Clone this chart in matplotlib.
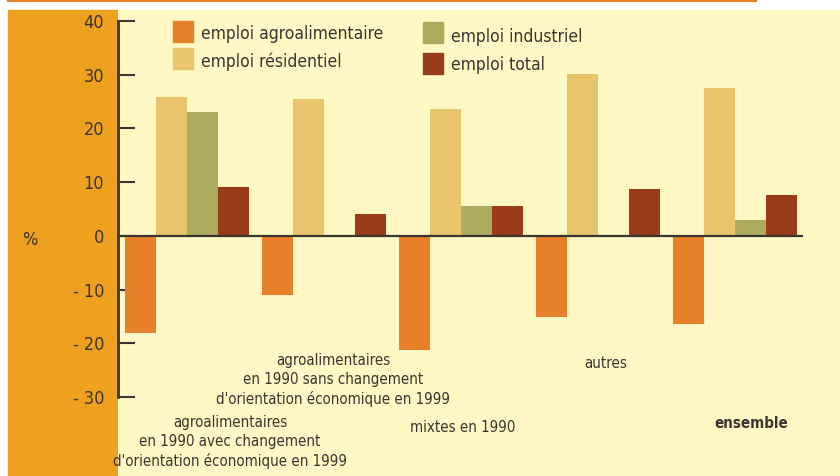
import numpy as np
import matplotlib.pyplot as plt
from matplotlib.patches import Rectangle
from matplotlib.lines import Line2D

plt.rcParams['font.family'] = ['DejaVu Sans']
plt.rcParams['font.stretch'] = 'condensed'

# ── données ──────────────────────────────────────────────
categories = [
    "agroalimentaires\nen 1990 avec changement\nd'orientation économique en 1999",
    "agroalimentaires\nen 1990 sans changement\nd'orientation économique en 1999",
    "mixtes en 1990",
    "autres",
    "ensemble",
]
series_names = ["emploi agroalimentaire", "emploi résidentiel",
                "emploi industriel", "emploi total"]
agro = [-18.0, -11.0, -21.2, -15.1, -16.4]
resid = [25.8, 25.5, 23.6, 30.1, 27.5]
indus = [23.0, -0.3, 5.6, 0.1, 3.0]
total = [9.1, 4.1, 5.6, 8.7, 7.6]
yticks = [40, 30, 20, 10, 0, -10, -20, -30]
ytick_labels = ["40", "30", "20", "10", "0", "- 10", "- 20", "- 30"]

colors = ["#E8802A", "#E8C46A", "#ADAB5E", "#983C1A"]
BG = "#FFF8C4"
PANEL = "#EEA11F"
DARK = "#3a3530"

W, H = 840, 476
fig = plt.figure(figsize=(W / 100, H / 100), dpi=100)
fig.patch.set_facecolor("white")


def fx(px):
    return px / W


def fy(py):
    return 1 - py / H


# panneau orange à gauche + filet du haut
fig.patches.append(Rectangle((fx(8), fy(476)), fx(118) - fx(8), fy(10) - fy(476),
                             transform=fig.transFigure, color=PANEL, zorder=-1))
fig.lines.append(Line2D([fx(8), fx(756)], [fy(1), fy(1)], transform=fig.transFigure,
                        color="#E8802A", lw=1.5))

ax = fig.add_axes([fx(118), fy(476), fx(840) - fx(118), fy(10) - fy(476)])
ax.set_facecolor(BG)

x = np.arange(len(categories))
w = 0.226
for k, (vals, c) in enumerate(zip([agro, resid, indus, total], colors)):
    ax.bar(x + (k - 1.5) * w, vals, w, color=c, label=series_names[k], zorder=2)

ax.set_xlim(-0.504, 4.766)
ax.set_ylim(-44.7, 42.05)
ax.hlines(0, -0.504, 4.496, color=DARK, lw=1.6, zorder=3)

for s in ["top", "right", "bottom"]:
    ax.spines[s].set_visible(False)
ax.spines["left"].set_bounds(-30, 40)
ax.spines["left"].set_color(DARK)
ax.spines["left"].set_linewidth(2)
ax.set_xticks([])
ax.set_yticks(yticks)
ax.set_yticklabels(ytick_labels)
ax.tick_params(axis="y", direction="in", length=12, width=1.5, color=DARK,
               labelsize=13, labelcolor=DARK, pad=10)

fig.text(fx(30), fy(240), "%", fontsize=13, color=DARK, ha="center", va="center")

# libellés des catégories
label_pos = [(230, 442), (333, 380), (463, 427), (606, 363), (751, 424)]
for lab, (px, py) in zip(categories, label_pos):
    fig.text(fx(px), fy(py), lab, ha="center", va="center", fontsize=10.8,
             color=DARK, linespacing=1.3,
             fontweight="bold" if lab == "ensemble" else "normal")

# légende
leg_items = [(173, 21, 34, 0), (173, 48, 62, 1), (423, 22, 37, 2), (423, 53, 65, 3)]
for px, top, ty, k in leg_items:
    fig.patches.append(Rectangle((fx(px), fy(top + 21)), fx(20), 21 / H,
                                 transform=fig.transFigure, color=colors[k]))
    fig.text(fx(px + 28), fy(ty), series_names[k], ha="left", va="center",
             fontsize=12.5, color=DARK)

fig.savefig("out.png", dpi=100, facecolor=fig.get_facecolor())
